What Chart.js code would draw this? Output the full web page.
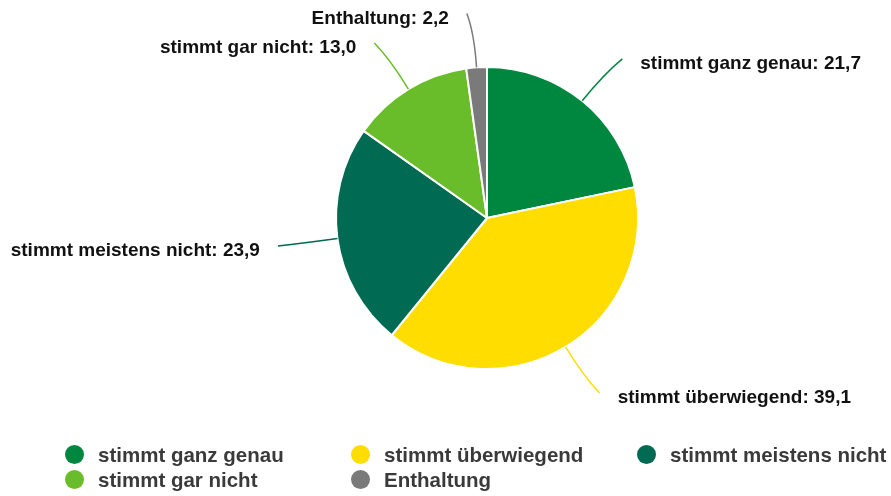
<!DOCTYPE html>
<html>
<head>
<meta charset="utf-8">
<script src="https://cdn.jsdelivr.net/npm/chart.js@4.4.1/dist/chart.umd.min.js"></script>
<style>
  html, body { margin: 0; padding: 0; background: #fff; }
  #wrap { position: relative; width: 891px; height: 496px; }
  #legende {
    position: absolute; left: 65px; top: 442px;
    display: grid; grid-template-columns: 286px 286px 286px; grid-auto-rows: 25px;
    font-family: "Liberation Sans", Arial, sans-serif; font-weight: bold; font-size: 20.5px; color: #3a3a3a;
  }
  #legende div { display: flex; align-items: center; white-space: nowrap; }
  #legende span.punkt { display: inline-block; width: 19px; height: 19px; border-radius: 50%; margin-right: 14px; }
</style>
</head>
<body>
<div id="wrap">
  <canvas id="torte" width="891" height="496"></canvas>
  <div id="legende"></div>
</div>
<script>
var etiquetas = ['stimmt ganz genau', 'stimmt überwiegend', 'stimmt meistens nicht', 'stimmt gar nicht', 'Enthaltung'];
var werte = [21.7, 39.1, 23.9, 13.0, 2.2];
var farben = ['#00873f', '#ffdd00', '#006a52', '#6abd2a', '#7a7a7a'];

// Beschriftungen mit Fuehrungslinien
var etikettenPlugin = {
  id: 'etiketten',
  afterDatasetsDraw: function (chart) {
    var ctx = chart.ctx;
    var meta = chart.getDatasetMeta(0);
    ctx.save();
    ctx.font = 'bold 19px "Liberation Sans", Arial, sans-serif';
    ctx.textBaseline = 'middle';
    meta.data.forEach(function (arc, i) {
      var mid = (arc.startAngle + arc.endAngle) / 2;
      var cx = Math.cos(mid), sy = Math.sin(mid);
      var r = arc.outerRadius;
      var dir = cx >= 0 ? 1 : -1;
      var x0 = arc.x + cx * r, y0 = arc.y + sy * r;
      var xc = arc.x + cx * (r + 35), yc = arc.y + sy * (r + 35);
      var x1 = arc.x + cx * (r + 54) + dir * 6, y1 = arc.y + sy * (r + 54);
      ctx.strokeStyle = farben[i];
      ctx.lineWidth = 1.5;
      ctx.beginPath();
      ctx.moveTo(x0, y0);
      ctx.quadraticCurveTo(xc, yc, x1, y1);
      ctx.stroke();
      ctx.fillStyle = '#111';
      ctx.textAlign = dir > 0 ? 'left' : 'right';
      var txt = etiquetas[i] + ': ' + werte[i].toFixed(1).replace('.', ',');
      ctx.fillText(txt, x1 + dir * 18, y1 + 5);
    });
    ctx.restore();
  }
};

var torte = new Chart(document.getElementById('torte'), {
  type: 'pie',
  plugins: [etikettenPlugin],
  data: {
    labels: etiquetas,
    datasets: [{
      data: werte,
      backgroundColor: farben,
      borderColor: '#ffffff',
      borderWidth: 2
    }]
  },
  options: {
    responsive: false,
    animation: false,
    layout: { padding: { top: 66, bottom: 126, left: 83, right: 0 } },
    plugins: {
      legend: { display: false },
      tooltip: { enabled: false }
    }
  }
});

// eigene Legende im Raster
var legende = document.getElementById('legende');
etiquetas.forEach(function (name, i) {
  var item = document.createElement('div');
  var punkt = document.createElement('span');
  punkt.className = 'punkt';
  punkt.style.background = farben[i];
  item.appendChild(punkt);
  item.appendChild(document.createTextNode(name));
  legende.appendChild(item);
});
</script>
</body>
</html>
